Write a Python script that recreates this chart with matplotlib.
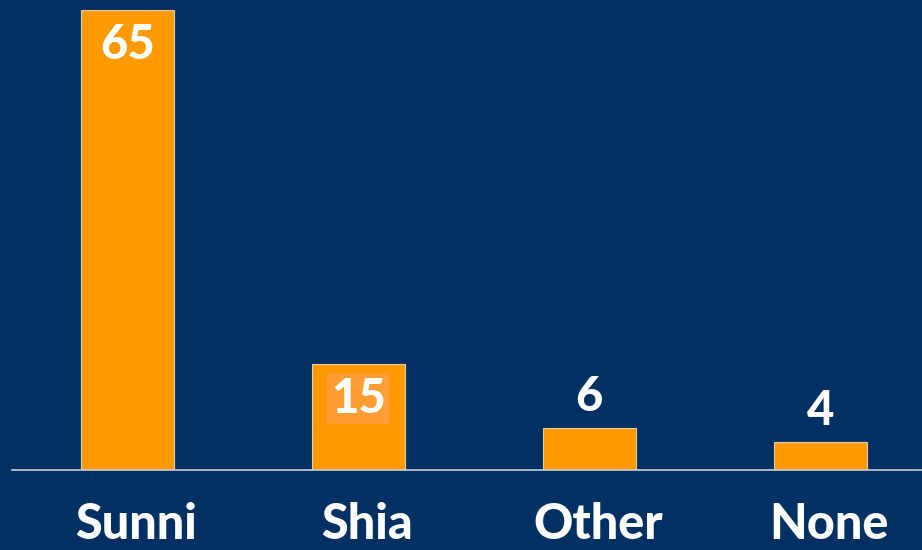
import matplotlib
matplotlib.use("Agg")
import matplotlib.pyplot as plt

categories = ["Sunni", "Shia", "Other", "None"]
values = [65, 15, 6, 4]

BG = "#003162"
ORANGE = "#ff9900"

plt.rcParams['font.family'] = ['Lato', 'DejaVu Sans']

fig = plt.figure(figsize=(9.22, 5.5), dpi=100, facecolor=BG)
ax = fig.add_axes([12 / 922, 80 / 550, 910 / 922, 460 / 550])
ax.set_facecolor(BG)

x = list(range(len(categories)))
bars = ax.bar(x, values, width=0.4, color=ORANGE, edgecolor="#e6cfa6", linewidth=0.8, zorder=2)

ax.set_xlim(-0.5, 3.44)
ax.set_ylim(0, 65)

for s in ["top", "right", "left"]:
    ax.spines[s].set_visible(False)
ax.spines["bottom"].set_color("#c9cdd8")
ax.spines["bottom"].set_linewidth(1.2)
ax.set_yticks([])
ax.set_xticks([])

# category labels under the axis (sit a little right of the bar centres)
for xi, cat in zip(x, categories):
    ax.annotate(cat, (xi, -0.15), xycoords=ax.get_xaxis_transform(),
                xytext=(6, 0), textcoords="offset points", ha="center",
                va="baseline", color="white", fontsize=35, fontweight="black")

# value labels: inside for tall bars, above for short ones
for xi, v in zip(x, values):
    if v >= 10:
        kw = {}
        if v == 15:
            kw["bbox"] = dict(boxstyle="square,pad=0.08", facecolor="#ff9d33", edgecolor="none")
        ax.annotate(str(v), (xi, v), xytext=(0, -25), textcoords="offset points",
                    ha="center", va="center", color="white", fontsize=34,
                    fontweight="black", zorder=3, **kw)
    else:
        ax.annotate(str(v), (xi, v), xytext=(0, 22), textcoords="offset points",
                    ha="center", va="center", color="white", fontsize=34,
                    fontweight="black", zorder=3)

fig.savefig("out.png", dpi=100, facecolor=BG)
